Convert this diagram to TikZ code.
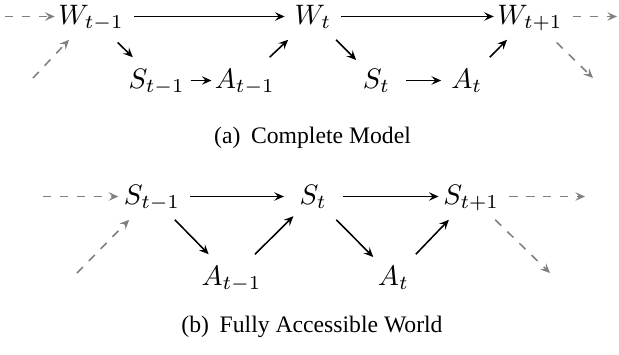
\documentclass[tikz,border=0pt]{standalone}
\usepackage{fontspec}
\usetikzlibrary{arrows.meta}
\newfontfamily\capfont{Liberation Serif}
\begin{document}
\begin{tikzpicture}[x=0.355pt,y=-0.355pt,
  every path/.style={line width=0.55pt},
  var/.style={inner sep=3.333pt, text height=7.5pt, text depth=1.8pt},
  link/.style={-{Stealth[length=3.4pt, width=3pt, inset=1.3pt]}},
  ghost/.style={link, gray, dashed},
  subcap/.style={font=\capfont\fontsize{8.4}{10}\selectfont, inner sep=0pt, anchor=base}]
\useasboundingbox (0,0) rectangle (619,354);

% ---- (a) complete model ----
\node[var] (Wm) at (91,16.5)    {$W_{t-1}$};
\node[var] (W0) at (313,16.5)   {$W_t$};
\node[var] (Wp) at (530,16.5)   {$W_{t+1}$};
\node[var] (Sm) at (156.7,80.5) {$S_{t-1}$};
\node[var] (Am) at (244.8,80.5) {$A_{t-1}$};
\node[var] (S0) at (376.5,80.5) {$S_t$};
\node[var] (A0) at (466.8,80.5) {$A_t$};

\coordinate (wInL)  at (5,16.5);
\coordinate (wInD)  at (33,78);
\coordinate (wOutR) at (617,16.5);
\coordinate (wOutD) at (593,78);

\draw[ghost, shorten >=-2.3pt] (wInL) -- (Wm);
\draw[ghost] (wInD) -- (Wm);
\draw[link] (Wm) -- (W0);
\draw[link, shorten >=-2.3pt] (W0) -- (Wp);
\draw[ghost] (Wp) -- (wOutR);
\draw[ghost, shorten <=1.4pt] (Wp) -- (wOutD);
\draw[link, shorten <=1.4pt] (Wm) -- (Sm);
\draw[link, shorten <=-1.5pt, shorten >=-2.4pt] (Sm) -- (Am);
\draw[link] (Am) -- (W0);
\draw[link, shorten >=-1.4pt] (W0) -- (S0);
\draw[link, shorten <=2pt] (S0) -- (A0);
\draw[link] (A0) -- (Wp);

\node[subcap] (capA) at (312.5,143) {(a)\hspace{0.45em}Complete Model};

% ---- (b) fully accessible world ----
\node[var] (bSm) at (152,196.5)   {$S_{t-1}$};
\node[var] (bS0) at (313.3,196.5) {$S_t$};
\node[var] (bSp) at (471.2,196.5) {$S_{t+1}$};
\node[var] (bAm) at (231.5,277.5) {$A_{t-1}$};
\node[var] (bA0) at (393.5,277.5) {$A_t$};

\coordinate (bInL)  at (43,196.5);
\coordinate (bInD)  at (77,273);
\coordinate (bOutR) at (585,196.5);
\coordinate (bOutD) at (550,273);

\draw[ghost, shorten >=-1.6pt] (bInL) -- (bSm);
\draw[ghost] (bInD) -- (bSm);
\draw[link, shorten >=2pt] (bSm) -- (bS0);
\draw[link, shorten <=2pt, shorten >=-1.9pt] (bS0) -- (bSp);
\draw[ghost] (bSp) -- (bOutR);
\draw[ghost] (bSp) -- (bOutD);
\draw[link] (bSm) -- (bAm);
\draw[link, shorten >=-1.8pt] (bAm) -- (bS0);
\draw[link, shorten >=-1.4pt] (bS0) -- (bA0);
\draw[link] (bA0) -- (bSp);

\node[subcap] (capB) at (312,332) {(b)\hspace{0.45em}Fully Accessible World};
\end{tikzpicture}
\end{document}
